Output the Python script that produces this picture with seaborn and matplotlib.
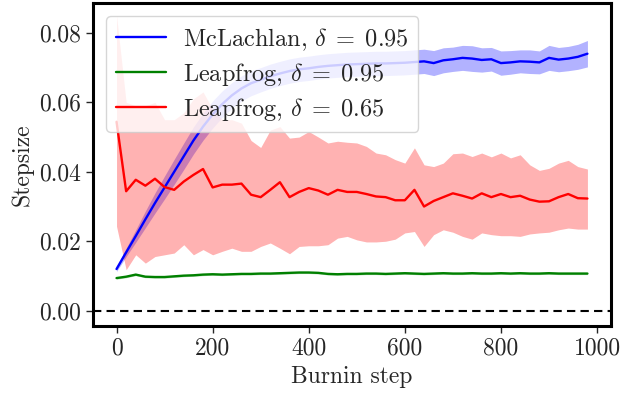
import numpy as np
import pandas as pd
import matplotlib
matplotlib.use("Agg")
import matplotlib.pyplot as plt
import seaborn as sns

# ---------------- data ----------------
steps = list(range(0, 1000, 20))

mcl_mean = [0.0120, 0.0168, 0.0215, 0.0263, 0.0310, 0.0355, 0.0400, 0.0445, 0.0490, 0.0530,
            0.0565, 0.0595, 0.0620, 0.0640, 0.0655, 0.0665, 0.0675, 0.0683, 0.0690, 0.0695,
            0.0698, 0.0702, 0.0705, 0.0707, 0.0709, 0.0710, 0.0711, 0.0712, 0.0712, 0.0713,
            0.0714, 0.0716, 0.0718, 0.0713, 0.0721, 0.0724, 0.0728, 0.0726, 0.0722, 0.0724,
            0.0713, 0.0715, 0.0718, 0.0717, 0.0715, 0.0728, 0.0723, 0.0726, 0.0731, 0.0740]
mcl_half = [0.0007, 0.0012, 0.0018, 0.0024, 0.0029, 0.0033, 0.0036, 0.0038, 0.0039, 0.0039,
            0.0039, 0.0038, 0.0037, 0.0036, 0.0036, 0.0035, 0.0035, 0.0035, 0.0035, 0.0035,
            0.0035, 0.0035, 0.0035, 0.0035, 0.0035, 0.0035, 0.0035, 0.0035, 0.0035, 0.0035,
            0.0035, 0.0035, 0.0035, 0.0036, 0.0036, 0.0035, 0.0036, 0.0037, 0.0035, 0.0034,
            0.0035, 0.0034, 0.0033, 0.0034, 0.0033, 0.0036, 0.0035, 0.0035, 0.0036, 0.0038]

lf95_mean = [0.0094, 0.0098, 0.0104, 0.0098, 0.0097, 0.0097, 0.0099, 0.0101, 0.0102, 0.0104,
             0.0105, 0.0104, 0.0105, 0.0106, 0.0106, 0.0107, 0.0107, 0.0108, 0.0109, 0.0110,
             0.0110, 0.0109, 0.0106, 0.0105, 0.0106, 0.0106, 0.0107, 0.0107, 0.0106, 0.0107,
             0.0108, 0.0107, 0.0106, 0.0107, 0.0108, 0.0107, 0.0107, 0.0108, 0.0107, 0.0107,
             0.0108, 0.0107, 0.0108, 0.0107, 0.0107, 0.0108, 0.0107, 0.0107, 0.0107, 0.0107]
lf95_half = [0.0003] * 50

lf65_mean = [0.0544, 0.0344, 0.0377, 0.0360, 0.0380, 0.0356, 0.0348, 0.0372, 0.0391, 0.0408,
             0.0355, 0.0363, 0.0363, 0.0366, 0.0334, 0.0327, 0.0348, 0.0370, 0.0327, 0.0342,
             0.0353, 0.0346, 0.0334, 0.0348, 0.0342, 0.0342, 0.0336, 0.0329, 0.0327, 0.0318,
             0.0318, 0.0348, 0.0300, 0.0316, 0.0327, 0.0338, 0.0331, 0.0323, 0.0338, 0.0327,
             0.0336, 0.0327, 0.0331, 0.0320, 0.0314, 0.0315, 0.0327, 0.0336, 0.0324, 0.0323]
lf65_upper = [0.0850, 0.0600, 0.0590, 0.0590, 0.0600, 0.0550, 0.0550, 0.0570, 0.0610, 0.0630,
              0.0580, 0.0550, 0.0550, 0.0540, 0.0490, 0.0470, 0.0520, 0.0530, 0.0497, 0.0500,
              0.0516, 0.0500, 0.0483, 0.0488, 0.0485, 0.0483, 0.0473, 0.0454, 0.0449, 0.0435,
              0.0425, 0.0469, 0.0420, 0.0415, 0.0425, 0.0452, 0.0454, 0.0444, 0.0454, 0.0443,
              0.0454, 0.0440, 0.0449, 0.0420, 0.0404, 0.0410, 0.0425, 0.0433, 0.0415, 0.0408]
lf65_lower = [0.0243, 0.0118, 0.0161, 0.0137, 0.0156, 0.0161, 0.0166, 0.0190, 0.0161, 0.0176,
              0.0161, 0.0171, 0.0180, 0.0171, 0.0171, 0.0185, 0.0195, 0.0180, 0.0164, 0.0185,
              0.0187, 0.0187, 0.0190, 0.0209, 0.0214, 0.0204, 0.0198, 0.0198, 0.0200, 0.0206,
              0.0224, 0.0228, 0.0185, 0.0219, 0.0233, 0.0226, 0.0214, 0.0206, 0.0224, 0.0219,
              0.0216, 0.0216, 0.0214, 0.0221, 0.0224, 0.0226, 0.0233, 0.0238, 0.0235, 0.0235]

labels = [r"McLachlan, $\delta\;=\;0.95$", r"Leapfrog, $\delta\;=\;0.95$", r"Leapfrog, $\delta\;=\;0.65$"]
colors = ["blue", "green", "red"]
yticks = [0.00, 0.02, 0.04, 0.06, 0.08]
xticks = [0, 200, 400, 600, 800, 1000]

# ---------------- style ----------------
sns.set_style("ticks")
plt.rcParams["font.family"] = ["serif"]
plt.rcParams["font.serif"] = ["cmr10", "DejaVu Serif"]
plt.rcParams["mathtext.fontset"] = "cm"
plt.rcParams["axes.formatter.use_mathtext"] = True
plt.rcParams["font.size"] = 17
plt.rcParams["axes.unicode_minus"] = False

df = pd.DataFrame({
    "step": steps * 3,
    "value": mcl_mean + lf95_mean + lf65_mean,
    "series": [labels[0]] * 50 + [labels[1]] * 50 + [labels[2]] * 50,
})

fig = plt.figure(figsize=(6.3, 3.95), dpi=100)
ax = fig.add_axes([0.1476, 0.1747, 0.8222, 0.8177])

st = np.array(steps)
bands = [
    (np.array(mcl_mean) - np.array(mcl_half), np.array(mcl_mean) + np.array(mcl_half)),
    (np.array(lf95_mean) - np.array(lf95_half), np.array(lf95_mean) + np.array(lf95_half)),
    (np.array(lf65_lower), np.array(lf65_upper)),
]
for (lo, hi), c in zip(bands, colors):
    ax.fill_between(st, lo, hi, color=c, alpha=0.3, linewidth=0, zorder=1)

sns.lineplot(data=df, x="step", y="value", hue="series", hue_order=labels,
             palette=dict(zip(labels, colors)), linewidth=1.7, ax=ax, zorder=3,
             estimator=None)

ax.axhline(0, color="black", linestyle=(0, (4, 2.5)), linewidth=1.5, zorder=2)

ax.set_xlim(-49, 1029)
ax.set_ylim(-0.0044, 0.0886)
ax.set_xticks(xticks)
ax.set_yticks(yticks)
ax.set_yticklabels([f"{v:.2f}" for v in yticks])
ax.set_xticklabels([str(v) for v in xticks])
ax.set_xlabel("Burnin step")
ax.set_ylabel("Stepsize")
ax.tick_params(direction="out", length=5, width=1, labelsize=17)
for s in ax.spines.values():
    s.set_linewidth(2.2)
    s.set_color("black")
    s.set_visible(True)

h, l = ax.get_legend_handles_labels()
leg = ax.legend(h, l, loc="upper left", fontsize=17.5, framealpha=0.8,
                handlelength=2.05, handletextpad=0.7, borderaxespad=0.55,
                labelspacing=0.33, borderpad=0.4)
leg.set_zorder(5)

fig.savefig("out.png", dpi=100)
